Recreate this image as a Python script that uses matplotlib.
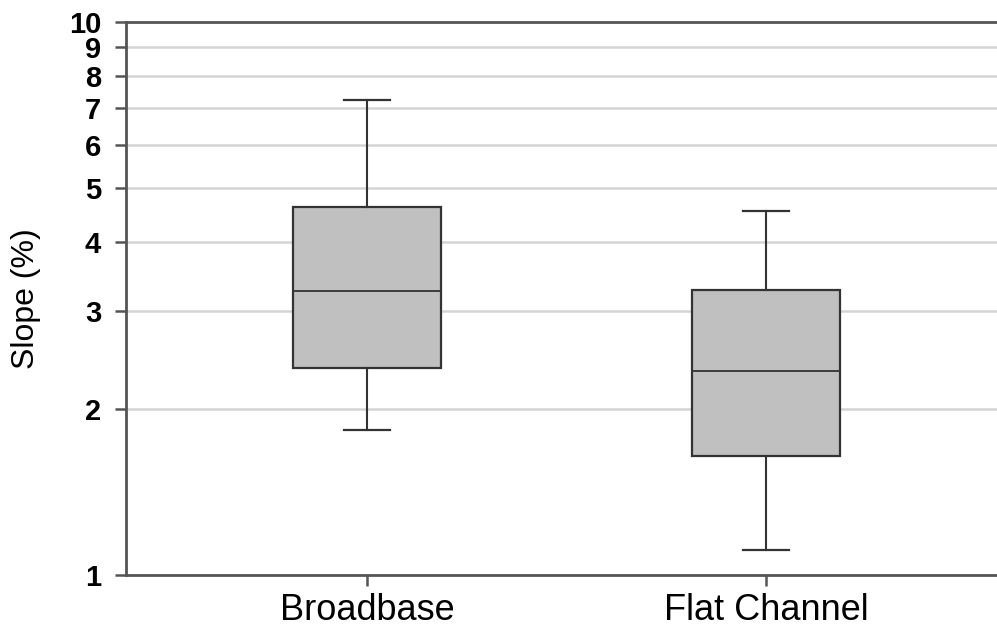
import matplotlib
matplotlib.use('Agg')
import matplotlib.pyplot as plt
from matplotlib.ticker import FixedLocator, FixedFormatter, NullLocator

# Box plot summary values (Slope %)
categories = ['Broadbase', 'Flat Channel']
whisker_low = [1.83, 1.11]
q1 = [2.37, 1.64]
median = [3.26, 2.34]
q3 = [4.63, 3.28]
whisker_high = [7.23, 4.55]

y_ticks = [1, 2, 3, 4, 5, 6, 7, 8, 9, 10]

plt.rcParams['font.family'] = ['Liberation Sans', 'DejaVu Sans']

fig = plt.figure(figsize=(9.97, 6.32), dpi=100)
ax = fig.add_axes([0.1264, 0.0902, 0.8736, 0.875])

stats = []
for i, name in enumerate(categories):
    stats.append({'label': name, 'whislo': whisker_low[i], 'q1': q1[i],
                  'med': median[i], 'q3': q3[i], 'whishi': whisker_high[i],
                  'fliers': []})

edge = '#333333'
ax.bxp(stats, positions=[1, 2], widths=0.371, capwidths=0.113,
       showfliers=False, patch_artist=True,
       boxprops=dict(facecolor='#c0c0c0', edgecolor=edge, linewidth=1.6),
       medianprops=dict(color=edge, linewidth=1.3),
       whiskerprops=dict(color=edge, linewidth=1.5),
       capprops=dict(color=edge, linewidth=1.6), zorder=3)

ax.set_yscale('log')
ax.set_ylim(1, 10)
ax.set_xlim(0.396, 2.579)
ax.yaxis.set_major_locator(FixedLocator(y_ticks))
ax.yaxis.set_major_formatter(FixedFormatter([str(v) for v in y_ticks]))
ax.yaxis.set_minor_locator(NullLocator())

# horizontal grid
for v in y_ticks[1:-1]:
    ax.axhline(v, color='#d4d4d4', linewidth=1.8, zorder=0)

ax.set_xticks([1, 2])
ax.set_xticklabels(categories, fontsize=26)
for lbl in ax.get_yticklabels():
    lbl.set_fontweight('bold')
    lbl.set_fontsize(21)

ax.tick_params(axis='y', length=8, width=1.8, color='#555555', pad=10)
ax.tick_params(axis='x', length=8, width=1.8, color='#555555', pad=5)

ax.set_ylabel('Slope (%)', fontsize=23, labelpad=20)

for s in ['left', 'bottom', 'top']:
    ax.spines[s].set_color('#555555')
    ax.spines[s].set_linewidth(2)
ax.spines['right'].set_visible(False)

plt.savefig('out.png', dpi=100, facecolor='white')
